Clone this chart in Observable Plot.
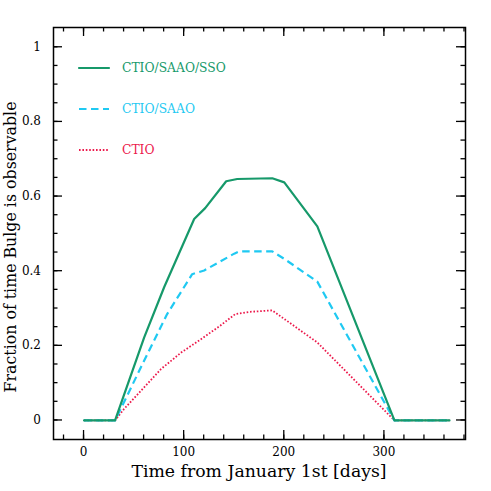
<!DOCTYPE html>
<html><head><meta charset="utf-8">
<script src="https://cdn.jsdelivr.net/npm/d3@7"></script>
<script src="https://cdn.jsdelivr.net/npm/@observablehq/plot@0.6"></script>
<style>
html,body{margin:0;padding:0;background:#fff;}
#chart svg{font-family:"DejaVu Serif",serif;}
</style>
</head><body><div id="chart"></div>
<script>
// ---- data ----
const seriesNames = ["CTIO/SAAO/SSO", "CTIO/SAAO", "CTIO"];
const seriesColors = ["#16996a", "#1fc9f2", "#ec1a4c"];
const daysA = [0, 31, 60, 80, 110, 121, 142, 153, 188, 200, 233, 310, 365];
const fracA = [0, 0, 0.222, 0.357, 0.54, 0.569, 0.641, 0.647, 0.649, 0.638, 0.52, 0, 0];
const daysB = [0, 31, 60, 83, 108, 120, 150, 155, 188, 200, 233, 310, 365];
const fracB = [0, 0, 0.16, 0.285, 0.392, 0.402, 0.447, 0.453, 0.453, 0.433, 0.372, 0, 0];
const daysC = [0, 31, 40, 57, 77, 97, 117, 136, 151, 165, 188, 200, 233, 310, 365];
const fracC = [0, 0, 0.031, 0.08, 0.138, 0.182, 0.218, 0.254, 0.285, 0.291, 0.295, 0.272, 0.209, 0, 0];
const xMajorTicks = [0, 100, 200, 300];
const xTickLabels = ["0", "100", "200", "300"];
const yMajorTicks = [0, 0.2, 0.4, 0.6, 0.8, 1];
const yTickLabels = ["0", "0.2", "0.4", "0.6", "0.8", "1"];
const xLabel = "Time from January 1st [days]";
const yLabel = "Fraction of time Bulge is observable";

const toRows = (days, frac, name) => days.map((d, i) => ({day: d, frac: frac[i], series: name}));
const rowsA = toRows(daysA, fracA, seriesNames[0]);
const rowsB = toRows(daysB, fracB, seriesNames[1]);
const rowsC = toRows(daysC, fracC, seriesNames[2]);

const xMinorTicks = d3.range(-20, 381, 20);
const yMinorTicks = d3.range(0, 41, 1).map(i => i * 0.05).filter(v => v <= 1.0001);

const styles = [
  {stroke: seriesColors[0], strokeWidth: 2.2, dash: null, cap: "round"},
  {stroke: seriesColors[1], strokeWidth: 2.2, dash: "7.5,4.5", cap: "butt"},
  {stroke: seriesColors[2], strokeWidth: 1.8, dash: "1.6,1.8", cap: "butt"}
];

function axesMark(index, scales, values, dim) {
  const {x, y} = scales;
  const L = dim.marginLeft, R = dim.width - dim.marginRight;
  const T = dim.marginTop, B = dim.height - dim.marginBottom;
  const g = d3.create("svg:g").attr("stroke", "black").attr("stroke-width", 1.3);
  const line = (x1, y1, x2, y2) => g.append("line").attr("x1", x1).attr("y1", y1).attr("x2", x2).attr("y2", y2);
  for (const v of xMinorTicks) { const px = x(v); line(px, B, px, B - 4.5); line(px, T, px, T + 4.5); }
  for (const v of xMajorTicks) { const px = x(v); line(px, B, px, B - 9); line(px, T, px, T + 9); }
  for (const v of yMinorTicks) { const py = y(v); line(L, py, L + 4.5, py); line(R, py, R - 4.5, py); }
  for (const v of yMajorTicks) { const py = y(v); line(L, py, L + 9, py); line(R, py, R - 9, py); }
  const t = g.append("g").attr("stroke", "none").attr("fill", "black").attr("font-size", 12);
  xMajorTicks.forEach((v, i) => t.append("text").attr("x", x(v)).attr("y", B + 13).attr("text-anchor", "middle").attr("dominant-baseline", "central").text(xTickLabels[i]));
  yMajorTicks.forEach((v, i) => t.append("text").attr("x", L - 12).attr("y", y(v)).attr("text-anchor", "end").attr("dominant-baseline", "central").text(yTickLabels[i]));
  t.append("text").attr("x", (L + R) / 2).attr("y", B + 32).attr("text-anchor", "middle").attr("dominant-baseline", "central").attr("font-size", 17.3).text(xLabel);
  t.append("text").attr("transform", `translate(10,${(T + B) / 2 + 14}) rotate(-90)`).attr("text-anchor", "middle").attr("dominant-baseline", "central").attr("font-size", 15.8).text(yLabel);
  return g.node();
}

function legendMark(index, scales, values, dim) {
  const L = dim.marginLeft, T = dim.marginTop;
  const g = d3.create("svg:g");
  seriesNames.forEach((name, i) => {
    const yy = T + 41 + i * 41;
    const s = styles[i];
    const ln = g.append("line").attr("x1", L + 26).attr("x2", L + 56).attr("y1", yy).attr("y2", yy)
      .attr("stroke", s.stroke).attr("stroke-width", s.strokeWidth).attr("stroke-linecap", s.cap);
    if (s.dash) ln.attr("stroke-dasharray", s.dash);
    g.append("text").attr("x", L + 69).attr("y", yy).attr("text-anchor", "start").attr("dominant-baseline", "central")
      .attr("fill", s.stroke).attr("font-size", 12.3).text(name);
  });
  return g.node();
}

const chart = Plot.plot({
  width: 491,
  height: 491,
  marginLeft: 53,
  marginRight: 26,
  marginTop: 27,
  marginBottom: 52,
  x: {domain: [-30.5, 381], axis: null},
  y: {domain: [-0.051, 1.053], axis: null},
  style: {background: "white", fontFamily: "DejaVu Serif, serif"},
  marks: [
    Plot.line(rowsC, {x: "day", y: "frac", stroke: styles[2].stroke, strokeWidth: styles[2].strokeWidth, strokeDasharray: styles[2].dash, strokeLinecap: styles[2].cap, strokeLinejoin: "miter"}),
    Plot.line(rowsB, {x: "day", y: "frac", stroke: styles[1].stroke, strokeWidth: styles[1].strokeWidth, strokeDasharray: styles[1].dash, strokeLinecap: styles[1].cap}),
    Plot.line(rowsA, {x: "day", y: "frac", stroke: styles[0].stroke, strokeWidth: styles[0].strokeWidth}),
    Plot.frame({stroke: "black", strokeWidth: 1.5}),
    axesMark,
    legendMark
  ]
});
document.getElementById("chart").appendChild(chart);
</script>
</body></html>
